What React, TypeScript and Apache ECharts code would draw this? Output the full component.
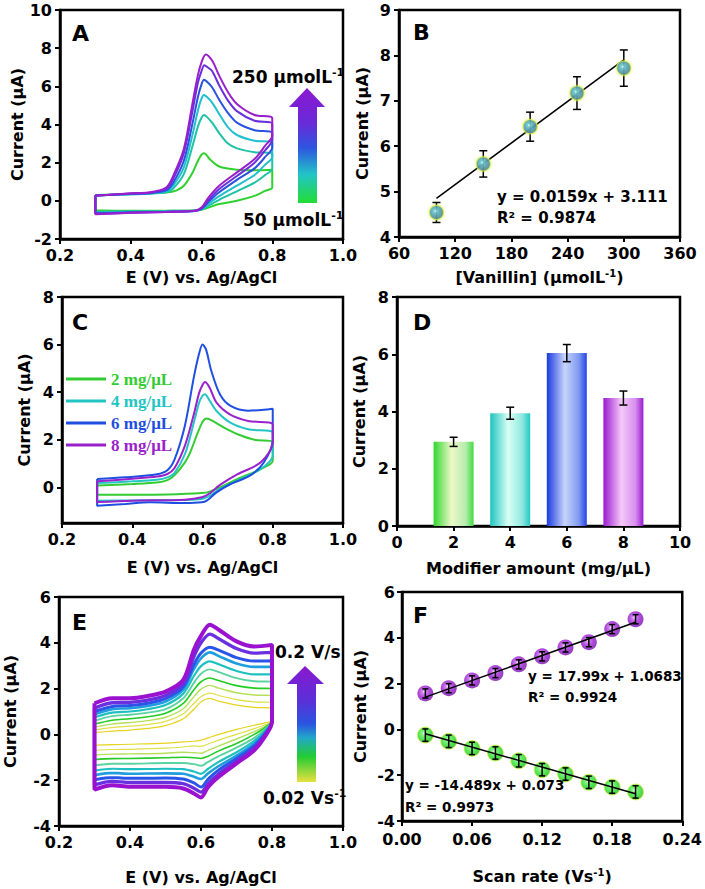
import React, { useEffect, useRef } from 'react';
import * as echarts from 'echarts';

const FONT = 'DejaVu Sans';

// ---------- Panel A : CVs at different vanillin concentrations ----------
const cvA1: number[][] = [[0.3,0.3],[0.35,0.33],[0.4,0.36],[0.45,0.4],[0.5,0.43],[0.53,0.55],[0.55,0.79],[0.575,1.49],[0.59,2.1],[0.6,2.42],[0.607,2.5],[0.625,2.15],[0.65,1.8],[0.7,1.63],[0.75,1.6],[0.8,1.63],[0.8,0.7],[0.78,0.52],[0.75,0.26],[0.7,0.0],[0.65,-0.17],[0.62,-0.35],[0.6,-0.47],[0.55,-0.52],[0.45,-0.52],[0.3,-0.5],[0.3,0.3]];
const cvA2: number[][] = [[0.3,0.28],[0.4,0.34],[0.45,0.37],[0.5,0.45],[0.52,0.65],[0.55,1.4],[0.575,2.9],[0.59,3.9],[0.6,4.35],[0.607,4.5],[0.615,4.4],[0.63,4.1],[0.65,3.55],[0.675,3.0],[0.7,2.75],[0.75,2.55],[0.8,2.5],[0.8,1.7],[0.78,1.35],[0.75,0.95],[0.7,0.5],[0.65,0.05],[0.62,-0.25],[0.6,-0.45],[0.58,-0.5],[0.5,-0.53],[0.4,-0.55],[0.3,-0.58],[0.3,0.28]];
const cvA3: number[][] = [[0.3,0.28],[0.4,0.35],[0.45,0.38],[0.5,0.5],[0.52,0.8],[0.55,1.75],[0.575,3.5],[0.59,4.75],[0.6,5.35],[0.607,5.55],[0.615,5.45],[0.63,5.15],[0.65,4.55],[0.675,3.85],[0.7,3.45],[0.75,3.15],[0.8,3.05],[0.8,2.3],[0.78,1.9],[0.75,1.35],[0.7,0.8],[0.65,0.25],[0.62,-0.15],[0.6,-0.45],[0.58,-0.53],[0.5,-0.56],[0.4,-0.58],[0.3,-0.62],[0.3,0.28]];
const cvA4: number[][] = [[0.3,0.28],[0.4,0.36],[0.45,0.4],[0.5,0.55],[0.52,0.95],[0.55,2.1],[0.575,4.1],[0.59,5.45],[0.6,6.1],[0.607,6.35],[0.615,6.25],[0.63,5.95],[0.65,5.3],[0.675,4.6],[0.7,4.1],[0.75,3.7],[0.8,3.55],[0.8,2.8],[0.78,2.3],[0.75,1.7],[0.7,1.1],[0.65,0.45],[0.62,-0.05],[0.6,-0.42],[0.58,-0.53],[0.5,-0.57],[0.4,-0.6],[0.3,-0.65],[0.3,0.28]];
const cvA5: number[][] = [[0.3,0.28],[0.4,0.38],[0.45,0.42],[0.5,0.62],[0.52,1.15],[0.55,2.5],[0.575,4.75],[0.59,6.2],[0.6,6.8],[0.608,7.1],[0.617,7.0],[0.63,6.8],[0.65,6.05],[0.675,5.25],[0.7,4.7],[0.75,4.2],[0.8,4.05],[0.8,3.2],[0.78,2.65],[0.75,2.0],[0.7,1.3],[0.65,0.62],[0.62,0.05],[0.6,-0.38],[0.58,-0.53],[0.5,-0.58],[0.4,-0.62],[0.3,-0.68],[0.3,0.28]];
const cvA6: number[][] = [[0.3,0.26],[0.4,0.4],[0.45,0.44],[0.5,0.7],[0.52,1.31],[0.55,2.71],[0.575,5.16],[0.59,6.6],[0.6,7.26],[0.612,7.67],[0.63,7.35],[0.65,6.56],[0.675,5.69],[0.7,5.08],[0.75,4.5],[0.8,4.33],[0.8,3.41],[0.78,2.89],[0.75,2.19],[0.7,1.49],[0.65,0.79],[0.62,0.18],[0.6,-0.35],[0.58,-0.52],[0.5,-0.58],[0.4,-0.63],[0.3,-0.7],[0.3,0.26]];
const aCurves = [cvA1, cvA2, cvA3, cvA4, cvA5, cvA6];
const aColors = ['#2fd12f', '#1fc2a4', '#22bfcf', '#2a52e0', '#6a2fdc', '#9a1fcc'];

// ---------- Panel B : calibration ----------
const bConc = [100, 150, 200, 250, 300];
const bCurrent = [4.54, 5.61, 6.43, 7.17, 7.72];
const bErr = [0.22, 0.29, 0.32, 0.36, 0.4];
const bFit: number[][] = [[100, 4.85], [300, 7.9]];

// ---------- Panel C : modifier amount CVs ----------
const cNames = ['2 mg/μL', '4 mg/μL', '6 mg/μL', '8 mg/μL'];
const cColors = ['#33cc33', '#22c4c4', '#1f4fe0', '#9922cc'];
const cvC2: number[][] = [[0.3,0.08],[0.4,0.14],[0.47,0.2],[0.5,0.3],[0.52,0.5],[0.55,1.05],[0.565,1.47],[0.584,2.2],[0.6,2.75],[0.612,2.89],[0.63,2.78],[0.66,2.52],[0.7,2.23],[0.748,2.0],[0.8,1.91],[0.8,1.12],[0.766,0.77],[0.7,0.35],[0.65,0.0],[0.621,-0.18],[0.598,-0.24],[0.5,-0.3],[0.4,-0.31],[0.3,-0.31],[0.3,0.08]];
const cvC4: number[][] = [[0.3,0.18],[0.4,0.25],[0.47,0.32],[0.5,0.42],[0.52,0.6],[0.55,1.4],[0.575,2.7],[0.59,3.55],[0.6,3.85],[0.607,3.91],[0.62,3.65],[0.64,3.21],[0.678,2.73],[0.73,2.44],[0.8,2.3],[0.8,1.33],[0.766,0.77],[0.7,0.28],[0.65,-0.07],[0.621,-0.35],[0.598,-0.49],[0.55,-0.53],[0.4,-0.55],[0.3,-0.56],[0.3,0.18]];
const cvC6: number[][] = [[0.3,0.35],[0.38,0.42],[0.47,0.55],[0.5,0.72],[0.52,1.15],[0.55,2.6],[0.575,4.6],[0.59,5.6],[0.6,6.0],[0.61,5.8],[0.625,4.9],[0.65,3.9],[0.68,3.42],[0.73,3.22],[0.79,3.28],[0.8,3.3],[0.8,2.0],[0.775,1.05],[0.735,0.49],[0.68,0.14],[0.64,-0.21],[0.612,-0.56],[0.598,-0.63],[0.55,-0.66],[0.45,-0.63],[0.38,-0.7],[0.3,-0.77],[0.3,0.35]];
const cvC8: number[][] = [[0.3,0.25],[0.4,0.36],[0.47,0.45],[0.5,0.56],[0.52,0.8],[0.55,1.75],[0.575,3.05],[0.59,3.95],[0.6,4.3],[0.607,4.43],[0.62,4.2],[0.64,3.56],[0.678,3.07],[0.73,2.79],[0.8,2.65],[0.8,1.89],[0.766,1.05],[0.7,0.55],[0.65,0.1],[0.621,-0.25],[0.598,-0.42],[0.55,-0.52],[0.4,-0.56],[0.3,-0.62],[0.3,0.25]];
const cCurves = [cvC2, cvC4, cvC6, cvC8];

// ---------- Panel D : bars ----------
const dAmount = [2, 4, 6, 8];
const dCurrent = [2.94, 3.94, 6.04, 4.47];
const dErr = [0.16, 0.21, 0.3, 0.245];
const dGrad = [
  ['#2fd62f', '#eef8c8', '#b6ecae', '#3fdc3f'],
  ['#1fc4c0', '#d8fff4', '#90e8e0', '#22c8c4'],
  ['#1a3ae0', '#c8d4fa', '#7f9af0', '#2444e8'],
  ['#9a1ad0', '#f4c8f8', '#d890ee', '#9a1ad0'],
];

// ---------- Panel E : scan rate CVs ----------
const cvE1: number[][] = [[0.3,0.08],[0.35,0.14],[0.4,0.19],[0.45,0.26],[0.5,0.38],[0.55,0.68],[0.58,1.1],[0.6,1.42],[0.625,1.57],[0.65,1.45],[0.7,1.28],[0.75,1.18],[0.8,1.14],[0.8,0.62],[0.78,0.5],[0.75,0.4],[0.7,0.22],[0.65,0.0],[0.62,-0.15],[0.6,-0.25],[0.58,-0.3],[0.55,-0.33],[0.5,-0.38],[0.4,-0.43],[0.35,-0.45],[0.3,-0.47],[0.3,0.08]];
const cvE2: number[][] = [[0.3,0.2],[0.35,0.3],[0.4,0.36],[0.45,0.43],[0.5,0.57],[0.55,0.9],[0.58,1.35],[0.6,1.65],[0.625,1.8],[0.65,1.7],[0.7,1.52],[0.75,1.42],[0.8,1.4],[0.8,0.6],[0.78,0.42],[0.75,0.25],[0.7,0.0],[0.65,-0.25],[0.62,-0.42],[0.6,-0.52],[0.58,-0.5],[0.55,-0.55],[0.5,-0.6],[0.4,-0.65],[0.35,-0.66],[0.3,-0.7],[0.3,0.2]];
const cvE3: number[][] = [[0.3,0.32],[0.35,0.45],[0.4,0.52],[0.45,0.6],[0.5,0.75],[0.55,1.12],[0.58,1.65],[0.6,1.98],[0.625,2.14],[0.65,2.02],[0.7,1.82],[0.75,1.72],[0.8,1.7],[0.8,0.62],[0.78,0.35],[0.75,0.12],[0.7,-0.2],[0.65,-0.5],[0.62,-0.7],[0.6,-0.82],[0.58,-0.8],[0.55,-0.78],[0.5,-0.82],[0.4,-0.85],[0.35,-0.86],[0.3,-0.9],[0.3,0.32]];
const cvE4: number[][] = [[0.3,0.45],[0.35,0.62],[0.4,0.68],[0.45,0.77],[0.5,0.92],[0.55,1.35],[0.58,1.95],[0.6,2.3],[0.625,2.46],[0.65,2.35],[0.7,2.13],[0.75,2.02],[0.8,2.0],[0.8,0.62],[0.78,0.3],[0.75,0.0],[0.7,-0.4],[0.65,-0.72],[0.62,-0.95],[0.6,-1.05],[0.58,-1.02],[0.55,-1.0],[0.5,-1.02],[0.4,-1.05],[0.35,-1.06],[0.3,-1.1],[0.3,0.45]];
const cvE5: number[][] = [[0.3,0.6],[0.35,0.8],[0.4,0.86],[0.45,0.95],[0.5,1.1],[0.55,1.58],[0.58,2.25],[0.6,2.65],[0.625,2.84],[0.65,2.72],[0.7,2.46],[0.75,2.32],[0.8,2.3],[0.8,0.62],[0.78,0.22],[0.75,-0.15],[0.7,-0.58],[0.65,-0.95],[0.62,-1.2],[0.6,-1.37],[0.58,-1.3],[0.55,-1.25],[0.5,-1.25],[0.4,-1.28],[0.35,-1.28],[0.3,-1.35],[0.3,0.6]];
const cvE6: number[][] = [[0.3,0.75],[0.35,0.95],[0.4,1.0],[0.45,1.1],[0.5,1.28],[0.55,1.78],[0.58,2.55],[0.6,2.98],[0.625,3.19],[0.65,3.06],[0.7,2.77],[0.75,2.62],[0.8,2.62],[0.8,0.6],[0.78,0.15],[0.75,-0.28],[0.7,-0.78],[0.65,-1.2],[0.62,-1.5],[0.6,-1.72],[0.58,-1.62],[0.55,-1.52],[0.5,-1.5],[0.4,-1.52],[0.35,-1.5],[0.3,-1.58],[0.3,0.75]];
const cvE7: number[][] = [[0.3,0.88],[0.35,1.1],[0.4,1.14],[0.45,1.24],[0.5,1.43],[0.55,1.95],[0.58,2.85],[0.6,3.32],[0.625,3.58],[0.65,3.42],[0.7,3.1],[0.75,2.95],[0.8,2.95],[0.8,0.6],[0.78,0.08],[0.75,-0.4],[0.7,-0.93],[0.65,-1.38],[0.62,-1.7],[0.6,-1.95],[0.58,-1.85],[0.55,-1.72],[0.5,-1.7],[0.4,-1.72],[0.35,-1.68],[0.3,-1.78],[0.3,0.88]];
const cvE8: number[][] = [[0.3,1.0],[0.35,1.22],[0.4,1.26],[0.45,1.36],[0.5,1.56],[0.55,2.08],[0.58,3.05],[0.6,3.55],[0.625,3.81],[0.65,3.68],[0.7,3.35],[0.75,3.2],[0.8,3.22],[0.8,0.6],[0.78,0.02],[0.75,-0.5],[0.7,-1.05],[0.65,-1.55],[0.62,-1.95],[0.6,-2.3],[0.58,-2.12],[0.55,-1.95],[0.5,-1.9],[0.4,-1.92],[0.35,-1.88],[0.3,-1.98],[0.3,1.0]];
const cvE9: number[][] = [[0.3,1.15],[0.35,1.38],[0.4,1.4],[0.45,1.5],[0.5,1.7],[0.55,2.22],[0.58,3.4],[0.6,4.0],[0.625,4.38],[0.65,4.18],[0.7,3.75],[0.75,3.55],[0.8,3.58],[0.8,0.58],[0.78,-0.05],[0.75,-0.6],[0.7,-1.18],[0.65,-1.72],[0.62,-2.15],[0.6,-2.52],[0.58,-2.35],[0.55,-2.15],[0.5,-2.1],[0.4,-2.1],[0.35,-2.05],[0.3,-2.2],[0.3,1.15]];
const cvE10: number[][] = [[0.3,1.36],[0.35,1.58],[0.4,1.58],[0.45,1.68],[0.5,1.87],[0.55,2.38],[0.58,3.7],[0.6,4.3],[0.625,4.79],[0.65,4.57],[0.7,4.06],[0.75,3.84],[0.8,3.91],[0.8,0.55],[0.78,-0.1],[0.75,-0.69],[0.7,-1.27],[0.65,-1.85],[0.62,-2.29],[0.6,-2.75],[0.58,-2.58],[0.55,-2.36],[0.5,-2.29],[0.4,-2.29],[0.35,-2.22],[0.3,-2.41],[0.3,1.36]];
const eCurves = [cvE1, cvE2, cvE3, cvE4, cvE5, cvE6, cvE7, cvE8, cvE9, cvE10];
const eColors = ['#e6d31e', '#dfe04a', '#b4e05a', '#22cc22', '#5ad4a0', '#1fc0c0', '#1e9ede', '#2a55e6', '#6a30e0', '#9a12d0'];
const eWidths = [1.2, 1.2, 1.4, 1.6, 1.9, 2.2, 2.6, 3, 3.4, 4];

// ---------- Panel F : peak currents vs scan rate ----------
const fRate = [0.02, 0.04, 0.06, 0.08, 0.1, 0.12, 0.14, 0.16, 0.18, 0.2];
const fAnodic = [1.57, 1.8, 2.14, 2.46, 2.84, 3.19, 3.58, 3.81, 4.38, 4.81];
const fAnodicErr = [0.2, 0.2, 0.2, 0.2, 0.2, 0.2, 0.2, 0.2, 0.2, 0.2];
const fCathodic = [-0.25, -0.52, -0.83, -1.03, -1.37, -1.76, -1.95, -2.31, -2.52, -2.73];
const fCathodicErr = [0.27, 0.27, 0.27, 0.27, 0.27, 0.27, 0.27, 0.27, 0.27, 0.27];
const fFitA: number[][] = [[0.02, 1.41], [0.2, 4.68]];
const fFitC: number[][] = [[0.02, -0.19], [0.2, -2.81]];

const errRender = (capW: number) => (params: any, api: any) => {
  const x = api.value(0), y = api.value(1), e = api.value(2);
  const top = api.coord([x, y + e]);
  const bot = api.coord([x, y - e]);
  const style = { stroke: '#000', lineWidth: 1.5 };
  return {
    type: 'group',
    children: [
      { type: 'line', shape: { x1: top[0], y1: top[1], x2: bot[0], y2: bot[1] }, style },
      { type: 'line', shape: { x1: top[0] - capW, y1: top[1], x2: top[0] + capW, y2: top[1] }, style },
      { type: 'line', shape: { x1: bot[0] - capW, y1: bot[1], x2: bot[0] + capW, y2: bot[1] }, style },
    ],
  };
};

const supRich = { sup: { fontSize: 10, fontWeight: 'bold', fontFamily: FONT, color: '#000', verticalAlign: 'top', lineHeight: 18 } };

function axisBase(extra: any) {
  return {
    type: 'value',
    nameLocation: 'middle',
    nameTextStyle: { color: '#000', fontFamily: FONT, fontWeight: 'bold', fontSize: 16, rich: supRich },
    axisLine: { show: true, onZero: false, lineStyle: { color: '#000', width: 2.5 } },
    axisTick: { show: true, inside: false, length: 5, lineStyle: { color: '#000', width: 2 } },
    axisLabel: { color: '#000', fontFamily: FONT, fontWeight: 'bold', fontSize: 16, margin: 8 },
    splitLine: { show: false },
    ...extra,
  };
}

function ball(stops: string[]) {
  return new echarts.graphic.RadialGradient(0.42, 0.4, 0.62, [
    { offset: 0, color: stops[0] },
    { offset: 0.18, color: stops[1] },
    { offset: 0.55, color: stops[2] },
    { offset: 1, color: stops[3] },
  ]);
}

function label(text: string, x: number, y: number, size: number, align = 'left') {
  return {
    type: 'text', x, y, z: 100,
    style: {
      text, fill: '#000', fontFamily: FONT, fontWeight: 'bold', fontSize: size,
      textAlign: align, textVerticalAlign: 'middle',
      rich: { sup: { fontSize: 11, fontWeight: 'bold', fontFamily: FONT, fill: '#000', verticalAlign: 'top', lineHeight: size + 4 } },
    },
  };
}

function arrow(tipX: number, tipY: number, baseY: number, headL: number, headR: number, shaftL: number, shaftR: number, bottom: number, stops: any[]) {
  return {
    type: 'polygon', z: 50,
    shape: { points: [[tipX, tipY], [headR, baseY], [shaftR, baseY], [shaftR, bottom], [shaftL, bottom], [shaftL, baseY], [headL, baseY]] },
    style: { fill: new echarts.graphic.LinearGradient(0, 0, 0, 1, stops) },
  };
}

export default function App() {
  const ref = useRef<HTMLDivElement>(null);
  useEffect(() => {
    if (!ref.current) return;
    const chart = echarts.init(ref.current, null, { renderer: 'svg' });
    const gridStyle = { show: true, borderColor: '#000', borderWidth: 2.5, backgroundColor: 'transparent' };
    const series: any[] = [];

    aCurves.forEach((d, i) => series.push({
      type: 'line', name: 'A' + i, xAxisIndex: 0, yAxisIndex: 0, data: d, symbol: 'none', smooth: 0.3,
      lineStyle: { color: aColors[i], width: 2 }, itemStyle: { color: aColors[i] }, z: 2 + i,
    }));

    series.push({ type: 'line', name: 'Bfit', xAxisIndex: 1, yAxisIndex: 1, data: bFit, symbol: 'none', lineStyle: { color: '#000', width: 1.5 }, z: 3 });
    series.push({
      type: 'custom', name: 'Berr', xAxisIndex: 1, yAxisIndex: 1, renderItem: errRender(4), z: 3,
      encode: { x: 0, y: 1 }, data: bConc.map((c, i) => [c, bCurrent[i], bErr[i]]),
    });
    series.push({
      type: 'scatter', name: 'B', xAxisIndex: 1, yAxisIndex: 1, symbolSize: 14,
      data: bConc.map((c, i) => [c, bCurrent[i]]),
      itemStyle: { color: ball(['#ffffff', '#4cc4dc', '#1a92bc', '#0f6c90']), borderColor: 'rgba(225,240,70,0.9)', borderWidth: 1.2, shadowBlur: 3, shadowColor: 'rgba(220,235,40,0.8)' },
      z: 6,
    });

    cCurves.forEach((d, i) => series.push({
      type: 'line', name: cNames[i], xAxisIndex: 2, yAxisIndex: 2, data: d, symbol: 'none', smooth: 0.3,
      lineStyle: { color: cColors[i], width: 2 }, itemStyle: { color: cColors[i] }, z: 2 + i,
    }));

    series.push({
      type: 'bar', name: 'D', xAxisIndex: 3, yAxisIndex: 3, barWidth: 40,
      data: dAmount.map((a, i) => ({
        value: [a, dCurrent[i]],
        itemStyle: {
          color: new echarts.graphic.LinearGradient(0, 0, 1, 0, [
            { offset: 0, color: dGrad[i][0] }, { offset: 0.45, color: dGrad[i][1] },
            { offset: 0.8, color: dGrad[i][2] }, { offset: 1, color: dGrad[i][3] },
          ]),
        },
      })),
      z: 2,
    });
    series.push({
      type: 'custom', name: 'Derr', xAxisIndex: 3, yAxisIndex: 3, renderItem: errRender(4), z: 5,
      encode: { x: 0, y: 1 }, data: dAmount.map((a, i) => [a, dCurrent[i], dErr[i]]),
    });

    eCurves.forEach((d, i) => series.push({
      type: 'line', name: 'E' + i, xAxisIndex: 4, yAxisIndex: 4, data: d, symbol: 'none', smooth: 0.3,
      lineStyle: { color: eColors[i], width: eWidths[i] }, itemStyle: { color: eColors[i] }, z: 2 + i,
    }));

    series.push({
      type: 'scatter', name: 'Fa', xAxisIndex: 5, yAxisIndex: 5, symbolSize: 16,
      data: fRate.map((r, i) => [r, fAnodic[i]]),
      itemStyle: { color: ball(['#f8e8ff', '#c968ec', '#9c1cd4', '#7410a8']) }, z: 3,
    });
    series.push({
      type: 'scatter', name: 'Fc', xAxisIndex: 5, yAxisIndex: 5, symbolSize: 16,
      data: fRate.map((r, i) => [r, fCathodic[i]]),
      itemStyle: { color: ball(['#f4fff0', '#6cf06c', '#2ee02e', '#1cb81c']), borderColor: 'rgba(225,240,70,0.9)', borderWidth: 1 }, z: 3,
    });
    series.push({ type: 'line', name: 'FfitA', xAxisIndex: 5, yAxisIndex: 5, data: fFitA, symbol: 'none', lineStyle: { color: '#000', width: 1.5 }, z: 4 });
    series.push({ type: 'line', name: 'FfitC', xAxisIndex: 5, yAxisIndex: 5, data: fFitC, symbol: 'none', lineStyle: { color: '#000', width: 1.5 }, z: 4 });
    series.push({
      type: 'custom', name: 'FerrA', xAxisIndex: 5, yAxisIndex: 5, renderItem: errRender(3), z: 5,
      encode: { x: 0, y: 1 }, data: fRate.map((r, i) => [r, fAnodic[i], fAnodicErr[i]]),
    });
    series.push({
      type: 'custom', name: 'FerrC', xAxisIndex: 5, yAxisIndex: 5, renderItem: errRender(3), z: 5,
      encode: { x: 0, y: 1 }, data: fRate.map((r, i) => [r, fCathodic[i], fCathodicErr[i]]),
    });

    const f1 = (v: number) => v.toFixed(1);
    const f2 = (v: number) => v.toFixed(2);
    const lbl = axisBase({}).axisLabel;

    const option: any = {
      animation: false,
      backgroundColor: '#fff',
      grid: [
        { left: 60, top: 10, width: 283, height: 229, ...gridStyle },
        { left: 399, top: 10, width: 281, height: 227, ...gridStyle },
        { left: 62, top: 297, width: 281, height: 226, ...gridStyle },
        { left: 397, top: 297, width: 283, height: 229, ...gridStyle },
        { left: 59, top: 597, width: 284, height: 229, ...gridStyle },
        { left: 402, top: 592, width: 281, height: 229, ...gridStyle },
      ],
      xAxis: [
        axisBase({ gridIndex: 0, min: 0.2, max: 1.0, interval: 0.2, name: 'E (V) vs. Ag/AgCl', nameGap: 30, axisLabel: { ...lbl, formatter: f1 } }),
        axisBase({ gridIndex: 1, min: 60, max: 360, interval: 60, name: '[Vanillin] (μmolL{sup|-1})', nameGap: 31 }),
        axisBase({ gridIndex: 2, min: 0.2, max: 1.0, interval: 0.2, name: 'E (V) vs. Ag/AgCl', nameGap: 36, axisLabel: { ...lbl, formatter: f1 } }),
        axisBase({ gridIndex: 3, min: 0, max: 10, interval: 2, name: 'Modifier amount (mg/μL)', nameGap: 34 }),
        axisBase({ gridIndex: 4, min: 0.2, max: 1.0, interval: 0.2, name: 'E (V) vs. Ag/AgCl', nameGap: 43, axisLabel: { ...lbl, formatter: f1 } }),
        axisBase({ gridIndex: 5, min: 0, max: 0.24, interval: 0.06, name: 'Scan rate (Vs{sup|-1})', nameGap: 46, axisLabel: { ...lbl, formatter: f2, margin: 10 } }),
      ],
      yAxis: [
        axisBase({ gridIndex: 0, min: -2, max: 10, interval: 2, name: 'Current (μA)', nameGap: 27 }),
        axisBase({ gridIndex: 1, min: 4, max: 9, interval: 1, name: 'Current (μA)', nameGap: 29 }),
        axisBase({
          gridIndex: 2, min: -1.5, max: 8, name: 'Current (μA)', nameGap: 30,
          axisLabel: { ...lbl, customValues: [0, 2, 4, 6, 8] },
          axisTick: { ...axisBase({}).axisTick, customValues: [0, 2, 4, 6, 8] },
        }),
        axisBase({ gridIndex: 3, min: 0, max: 8, interval: 2, name: 'Current (μA)', nameGap: 30 }),
        axisBase({ gridIndex: 4, min: -4, max: 6, interval: 2, name: 'Current (μA)', nameGap: 41 }),
        axisBase({ gridIndex: 5, min: -4, max: 6, interval: 2, name: 'Current (μA)', nameGap: 34, axisLabel: { ...lbl, margin: 7 } }),
      ],
      legend: {
        show: true, selectedMode: false, orient: 'vertical', left: 66, top: 370, padding: 0,
        icon: 'rect', itemWidth: 40, itemHeight: 3, itemGap: 4,
        data: cNames.map((n, i) => ({ name: n, textStyle: { color: cColors[i] } })),
        textStyle: { fontFamily: 'Liberation Serif', fontWeight: 'bold', fontSize: 17, lineHeight: 18 },
      },
      graphic: [
        label('A', 72, 33, 22),
        label('B', 413, 32, 22),
        label('C', 72, 322, 22),
        label('D', 413, 322, 22),
        label('E', 72, 622, 22),
        label('F', 413, 615, 22),
        label('250 μmolL{sup|-1}', 232, 77, 17),
        label('50 μmolL{sup|-1}', 243, 220, 17),
        label('y = 0.0159x + 3.111', 497, 197, 15),
        label('R² = 0.9874', 497, 218, 15),
        label('0.2 V/s', 275, 652, 17),
        label('0.02 Vs{sup|-1}', 263, 798, 17),
        label('y = 17.99x + 1.0683', 528, 676, 13.5),
        label('R² = 0.9924', 528, 697, 13.5),
        label('y = -14.489x + 0.073', 405, 785, 13.5),
        label('R² = 0.9973', 405, 807, 13.5),
        arrow(307, 88, 107, 289, 325, 298, 317, 203, [
          { offset: 0, color: '#8a18d0' }, { offset: 0.3, color: '#6a2ad8' }, { offset: 0.52, color: '#2f55e0' },
          { offset: 0.75, color: '#22c4c8' }, { offset: 1, color: '#22dd33' },
        ]),
        arrow(305, 666, 684, 287, 324, 297, 316, 782, [
          { offset: 0, color: '#8a18d0' }, { offset: 0.3, color: '#5a30d8' }, { offset: 0.5, color: '#2a55e0' },
          { offset: 0.62, color: '#22a8c8' }, { offset: 0.78, color: '#22cc33' }, { offset: 1, color: '#e8e040' },
        ]),
      ],
      series,
    };
    chart.setOption(option);
    return () => chart.dispose();
  }, []);
  return <div ref={ref} style={{ position: 'fixed', left: 0, top: 0, width: 705, height: 889, background: '#fff' }} />;
}
